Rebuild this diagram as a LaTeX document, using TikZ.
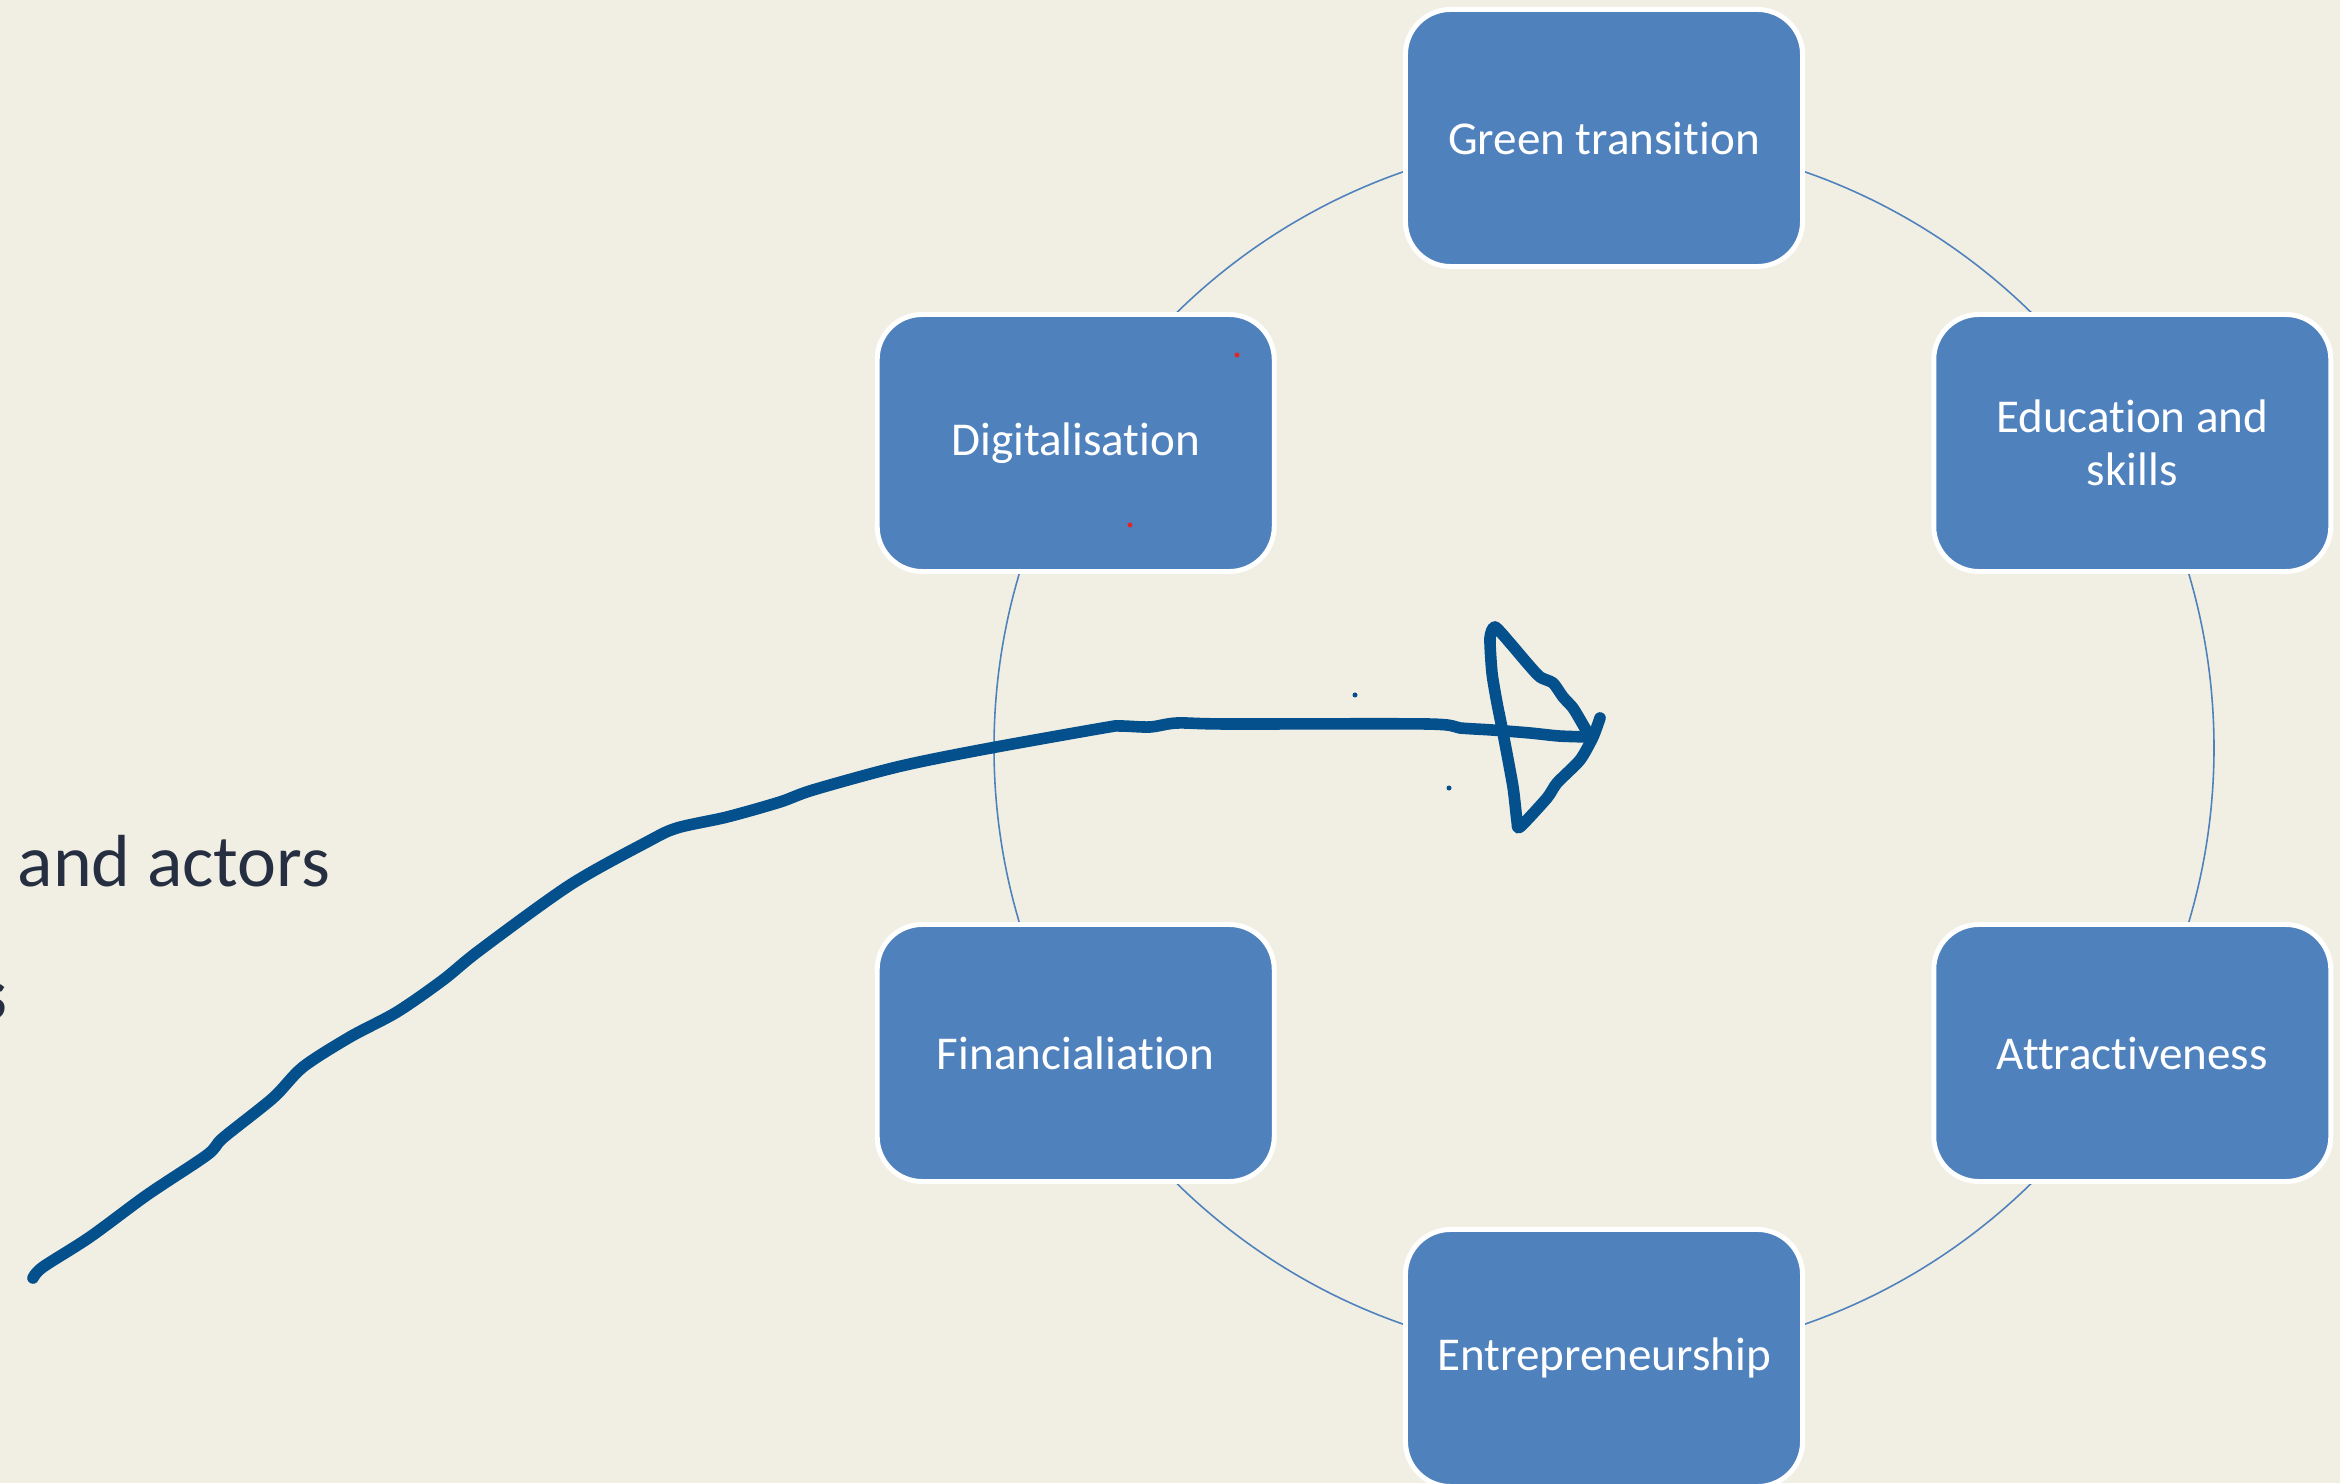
\documentclass[tikz,border=0pt]{standalone}
\usepackage{fontspec}
\setmainfont[Ligatures=NoCommon]{Carlito}
\usetikzlibrary{calc}
\definecolor{slideBg}{RGB}{241,239,227}
\definecolor{tileBlue}{RGB}{79,129,189}
\definecolor{inkBlue}{RGB}{3,80,140}
\definecolor{inkRed}{RGB}{225,40,40}
\definecolor{titleInk}{RGB}{38,46,66}
\newcommand\colorTile{tileBlue}
\newcommand\colorRing{tileBlue}
\newcommand\colorInk{inkBlue}
\newcommand\ringRadius{6.1}

\begin{document}
\begin{tikzpicture}[
	tile/.style={draw=white, line width=1.4pt, fill=\colorTile, rounded corners=0.45cm,
		minimum width=3.97cm, minimum height=2.57cm, text=white, align=center,
		font=\fontsize{13.4}{15}\selectfont},
	ring/.style={draw=\colorRing, line width=0.45pt},
	ink/.style={draw=\colorInk, line width=3.3pt, line cap=round, line join=round},
	slidetext/.style={inner sep=0pt, text=titleInk, font=\fontsize{21}{25}\selectfont}
]
	\clip (0,0) rectangle (23.4,14.83);
	\fill[slideBg] (0,0) rectangle (23.4,14.83);

	% cycle of topics
	\coordinate (ctr) at (16.04,7.35);
	\draw[ring] (ctr) circle (\ringRadius);
	\foreach \ang/\nm/\txt in {90/green/Green transition, 30/edu/{Education and\\skills},
			-30/attract/Attractiveness, -90/entre/Entrepreneurship,
			-150/finance/Financialiation, 150/digital/Digitalisation}{
		\node[tile] (\nm) at ($(ctr)+(\ang:\ringRadius)$) {\txt};
	}

	% slide text cut off at the left
	\node[slidetext, anchor=base west] (actors) at (0.17,5.96) {and actors};
	\node[slidetext, anchor=base east, font=\fontsize{21}{25}\selectfont\bfseries] (cut) at (0.08,4.63) {s};

	% freehand arrow
	\draw[ink] plot[smooth, tension=0.5] coordinates {
		(0.33,2.05) (0.43,2.16) (0.90,2.46) (1.47,2.88) (2.07,3.28) (2.23,3.45)
		(2.73,3.85) (3.03,4.16) (3.50,4.46) (3.97,4.71) (4.43,5.03) (4.80,5.33)
		(5.70,5.98) (6.47,6.41) (6.77,6.55) (7.27,6.66) (7.80,6.81) (8.13,6.93)
		(8.97,7.16) (9.80,7.33) (11.03,7.55) (11.20,7.57) (11.50,7.56) (11.77,7.60)
		(12.27,7.59) (14.27,7.59) (14.60,7.55) (14.92,7.53) (15.30,7.50) (15.59,7.47) (15.89,7.46)};
	\draw[ink] plot[smooth, tension=0.4] coordinates {
		(15.90,7.46) (15.82,7.60) (15.73,7.75) (15.63,7.86) (15.53,8.00) (15.40,8.06)
		(15.27,8.20) (15.10,8.40) (14.95,8.56) (14.90,8.45) (14.92,8.10) (14.97,7.80)
		(15.03,7.50) (15.13,6.96) (15.17,6.62) (15.20,6.56) (15.47,6.85) (15.57,7.00)
		(15.80,7.23) (15.93,7.46) (16.00,7.65)};

	% stray pen dots
	\fill[\colorInk] (13.55,7.88) circle (0.025);
	\fill[\colorInk] (14.49,6.95) circle (0.025);
	\fill[inkRed] (12.37,11.28) circle (0.025);
	\fill[inkRed] (11.30,9.58) circle (0.025);
\end{tikzpicture}
\end{document}
